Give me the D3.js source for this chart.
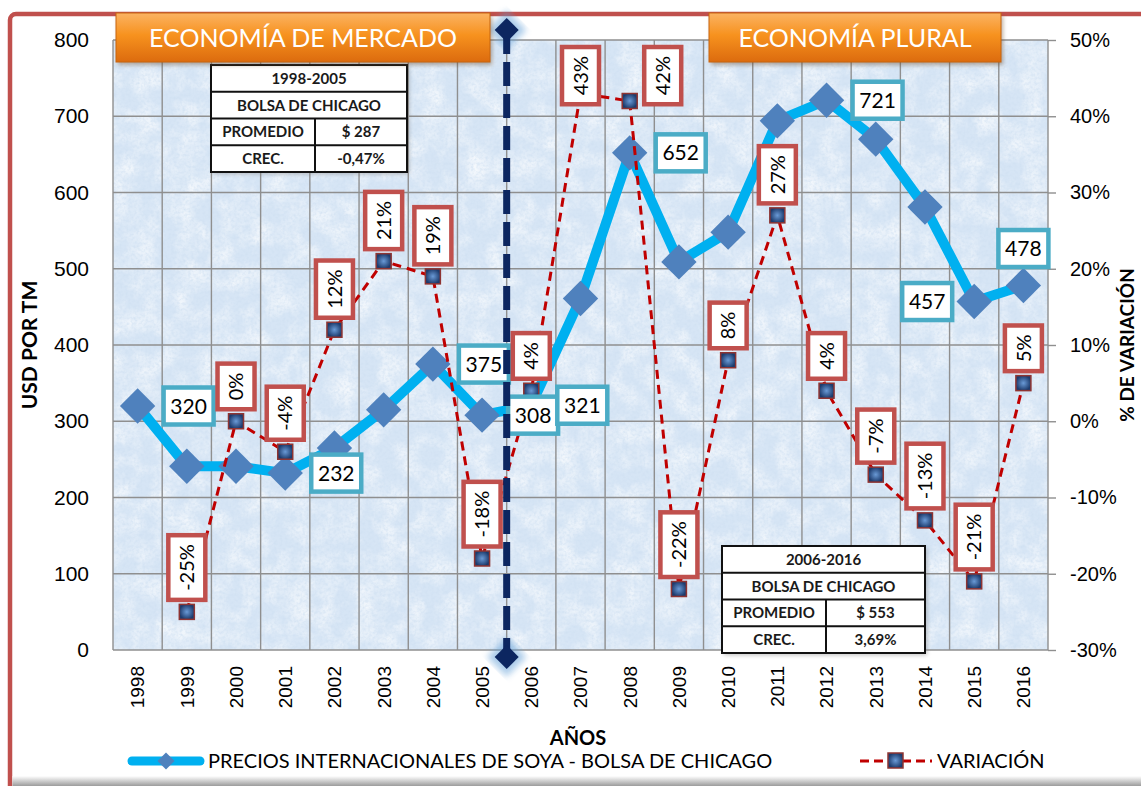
<!DOCTYPE html>
<html>
<head>
<meta charset="utf-8">
<script src="https://cdn.jsdelivr.net/npm/d3@7"></script>
<style>
  html, body { margin: 0; padding: 0; background: #fff; }
  svg { display: block; font-family: Lato, 'Open Sans', sans-serif; }
</style>
</head>
<body>
<svg id="chart"></svg>
<script>
// data
const years = ['1998', '1999', '2000', '2001', '2002', '2003', '2004', '2005', '2006', '2007',
  '2008', '2009', '2010', '2011', '2012', '2013', '2014', '2015', '2016'];
const prices = [320, 241, 241, 232, 265, 315, 375, 308, 321, 461, 652, 509, 548, 694, 721, 670, 581, 457, 478];
const variation = [null, -25, 0, -4, 12, 21, 19, -18, 4, 43, 42, -22, 8, 27, 4, -7, -13, -21, 5];
const leftTicks = [0, 100, 200, 300, 400, 500, 600, 700, 800];
const rightTicks = [-30, -20, -10, 0, 10, 20, 30, 40, 50];
const periods = ['ECONOMÍA DE MERCADO', 'ECONOMÍA PLURAL'];
const tableA = [['1998-2005'], ['BOLSA DE CHICAGO'], ['PROMEDIO', '$ 287'], ['CREC.', '-0,47%']];
const tableB = [['2006-2016'], ['BOLSA DE CHICAGO'], ['PROMEDIO', '$ 553'], ['CREC.', '3,69%']];
const seriesNames = ['PRECIOS INTERNACIONALES DE SOYA - BOLSA DE CHICAGO', 'VARIACIÓN'];

// which points carry a label, and on which side
const priceLabelSide = { 1998: 'right', 2001: 'right', 2004: 'right', 2005: 'right', 2006: 'right',
  2008: 'right', 2012: 'right', 2015: 'left', 2016: 'top' };
const varLabelSide = { 2008: 'right' };

const width = 1141, height = 786;
const plot = { l: 113, r: 1048, t: 40, b: 650 };

const svg = d3.select('#chart').attr('width', width).attr('height', height);
const defs = svg.append('defs');

// texture for the plot area: soft clouds plus fine speckle
const mottle = defs.append('filter').attr('id', 'mottle')
  .attr('x', 0).attr('y', 0).attr('width', 1).attr('height', 1);
mottle.append('feTurbulence').attr('type', 'fractalNoise').attr('baseFrequency', 0.045)
  .attr('numOctaves', 4).attr('seed', 3).attr('result', 'n');
mottle.append('feColorMatrix').attr('in', 'n').attr('type', 'matrix')
  .attr('values', '0 0 0 0 1  0 0 0 0 1  0 0 0 0 1  1.3 0 0 0 -0.45');

const speckle = defs.append('filter').attr('id', 'speckle')
  .attr('x', 0).attr('y', 0).attr('width', 1).attr('height', 1);
speckle.append('feTurbulence').attr('type', 'fractalNoise').attr('baseFrequency', 0.35)
  .attr('numOctaves', 2).attr('seed', 11).attr('result', 'n');
speckle.append('feColorMatrix').attr('in', 'n').attr('type', 'matrix')
  .attr('values', '0 0 0 0 0.62  0 0 0 0 0.74  0 0 0 0 0.88  1.4 0 0 0 -0.55');

const blur = defs.append('filter').attr('id', 'glow')
  .attr('x', '-50%').attr('y', '-10%').attr('width', '200%').attr('height', '120%');
blur.append('feGaussianBlur').attr('stdDeviation', 3);

const shadow = defs.append('filter').attr('id', 'shadow')
  .attr('x', '-10%').attr('y', '-20%').attr('width', '120%').attr('height', '160%');
shadow.append('feGaussianBlur').attr('stdDeviation', 2);

const orange = defs.append('linearGradient').attr('id', 'orange')
  .attr('x1', 0).attr('y1', 0).attr('x2', 0).attr('y2', 1);
orange.append('stop').attr('offset', '0%').attr('stop-color', '#fbb363');
orange.append('stop').attr('offset', '45%').attr('stop-color', '#f7921e');
orange.append('stop').attr('offset', '100%').attr('stop-color', '#dc6b0e');

const bottomShade = defs.append('linearGradient').attr('id', 'bottomShade')
  .attr('x1', 0).attr('y1', 0).attr('x2', 0).attr('y2', 1);
bottomShade.append('stop').attr('offset', '0%').attr('stop-color', '#ffffff');
bottomShade.append('stop').attr('offset', '100%').attr('stop-color', '#9c9c9c');

const marker = defs.append('radialGradient').attr('id', 'marker');
marker.append('stop').attr('offset', '0%').attr('stop-color', '#6a9ad6');
marker.append('stop').attr('offset', '100%').attr('stop-color', '#1d3c6e');

// frame
svg.append('rect').attr('x', 10).attr('y', 14).attr('width', 1160).attr('height', 800)
  .attr('rx', 6).attr('fill', '#fff').attr('stroke', '#c0504d').attr('stroke-width', 4.5);
svg.append('rect').attr('x', 12.5).attr('y', 776).attr('width', 1130).attr('height', 10)
  .attr('fill', 'url(#bottomShade)');

// scales
const x = d3.scaleBand().domain(years).range([plot.l, plot.r]);
const cx = d => x(d) + x.bandwidth() / 2;
const yL = d3.scaleLinear().domain([0, 800]).range([plot.b, plot.t]);
const yR = d3.scaleLinear().domain([-30, 50]).range([plot.b, plot.t]);

// plot background
const bg = [['#d6e5f5', null], ['#fff', 'url(#mottle)'], ['#fff', 'url(#speckle)']];
bg.forEach(([fill, filter]) => {
  svg.append('rect').attr('x', plot.l).attr('y', plot.t)
    .attr('width', plot.r - plot.l).attr('height', plot.b - plot.t)
    .attr('fill', fill).attr('filter', filter);
});

// grid
const grid = svg.append('g').attr('stroke', '#8f8f8f').attr('stroke-width', 1.4);
grid.selectAll('line.h').data(leftTicks).enter().append('line')
  .attr('x1', plot.l).attr('x2', plot.r).attr('y1', d => yL(d)).attr('y2', d => yL(d));
grid.selectAll('line.v').data(years.map(d => x(d)).concat([plot.r])).enter().append('line')
  .attr('x1', d => d).attr('x2', d => d).attr('y1', plot.t).attr('y2', plot.b);

// axes
svg.append('g').attr('transform', `translate(${plot.l},0)`)
  .call(d3.axisLeft(yL).tickValues(leftTicks).tickSize(0).tickPadding(24))
  .call(g => g.select('.domain').remove())
  .selectAll('text').attr('font-size', 21).attr('fill', '#000').attr('font-family', null);

svg.append('g').attr('transform', `translate(${plot.r},0)`)
  .call(d3.axisRight(yR).tickValues(rightTicks).tickSize(8).tickPadding(14).tickFormat(d => d + '%'))
  .call(g => g.select('.domain').remove())
  .call(g => g.selectAll('line').attr('stroke', '#8f8f8f').attr('stroke-width', 1.4))
  .selectAll('text').attr('font-size', 20).attr('fill', '#000').attr('font-family', null);

svg.append('g').attr('transform', `translate(0,${plot.b})`)
  .call(d3.axisBottom(x).tickSize(0))
  .call(g => g.select('.domain').remove())
  .selectAll('text')
  .attr('font-size', 19).attr('fill', '#000').attr('font-family', null)
  .attr('transform', 'rotate(-90)').attr('text-anchor', 'end')
  .attr('x', -16).attr('y', 0).attr('dy', '0.36em');

// axis titles
svg.append('text').attr('transform', `translate(37,${(plot.t + plot.b) / 2}) rotate(-90)`)
  .attr('text-anchor', 'middle').attr('font-size', 21).attr('font-weight', 'bold').text('USD POR TM');
svg.append('text').attr('transform', `translate(1134,${(plot.t + plot.b) / 2}) rotate(-90)`)
  .attr('text-anchor', 'middle').attr('font-size', 19).attr('font-weight', 'bold').text('% DE VARIACIÓN');
svg.append('text').attr('x', 578).attr('y', 745)
  .attr('text-anchor', 'middle').attr('font-size', 20).attr('font-weight', 'bold').text('AÑOS');

// price series
const priceData = years.map((d, i) => ({ year: d, v: prices[i] }));
const line = d3.line().x(d => cx(d.year)).y(d => yL(d.v));
svg.append('path').datum(priceData).attr('d', line)
  .attr('fill', 'none').attr('stroke', '#00b0f0').attr('stroke-width', 10).attr('stroke-linejoin', 'round');
svg.selectAll('path.dia').data(priceData).enter().append('path')
  .attr('transform', d => `translate(${cx(d.year)},${yL(d.v)}) rotate(45)`)
  .attr('d', d3.symbol().type(d3.symbolSquare).size(25 * 25))
  .attr('fill', '#4f81bd');

// variation series
const varData = years.map((d, i) => ({ year: d, v: variation[i] })).filter(d => d.v !== null);
const vline = d3.line().x(d => cx(d.year)).y(d => yR(d.v));
svg.append('path').datum(varData).attr('d', vline)
  .attr('fill', 'none').attr('stroke', '#c00000').attr('stroke-width', 3).attr('stroke-dasharray', '9,6');
svg.selectAll('rect.mk').data(varData).enter().append('rect')
  .attr('x', d => cx(d.year) - 7.5).attr('y', d => yR(d.v) - 7.5)
  .attr('width', 15).attr('height', 15)
  .attr('fill', 'url(#marker)').attr('stroke', '#8e3432').attr('stroke-width', 1.5);

// price data labels
const pl = svg.append('g');
priceData.filter(d => priceLabelSide[d.year]).forEach(d => {
  const side = priceLabelSide[d.year];
  const w = 50, h = 37;
  let mx = cx(d.year), my = yL(d.v);
  if (side === 'right') mx += 51;
  if (side === 'left') mx -= 47;
  if (side === 'top') my -= 37;
  pl.append('rect').attr('x', mx - w / 2).attr('y', my - h / 2).attr('width', w).attr('height', h)
    .attr('fill', '#fff').attr('stroke', '#4bacc6').attr('stroke-width', 4.5);
  pl.append('text').attr('x', mx).attr('y', my).attr('dy', '0.36em').attr('text-anchor', 'middle')
    .attr('font-size', 21).text(d.v);
});

// variation data labels (rotated text)
const vl = svg.append('g');
varData.forEach(d => {
  const txt = d.v + '%';
  const t = vl.append('text').attr('font-size', 20).text(txt);
  const len = t.node().getComputedTextLength();
  const w = 37, h = len + 18;
  const side = varLabelSide[d.year] || 'above';
  let mx = cx(d.year);
  let top = Math.max(47, yR(d.v) - 12 - h);
  if (side === 'right') mx += 33;
  const my = top + h / 2;
  vl.insert('rect', 'text:last-child')
    .attr('x', mx - w / 2).attr('y', top).attr('width', w).attr('height', h)
    .attr('fill', '#fff').attr('stroke', '#c0504d').attr('stroke-width', 4.5);
  t.attr('transform', `translate(${mx},${my}) rotate(-90)`)
    .attr('text-anchor', 'middle').attr('dy', '0.36em');
});

// divider between the two periods
const divX = x('2006');
const divTop = plot.t - 10, divBot = plot.b + 7;
svg.append('line').attr('x1', divX).attr('x2', divX).attr('y1', divTop).attr('y2', divBot)
  .attr('stroke', '#5b9bd5').attr('stroke-width', 18).attr('opacity', 0.6).attr('filter', 'url(#glow)');
[divTop, divBot].forEach(yy => {
  svg.append('path').attr('transform', `translate(${divX},${yy}) rotate(45)`)
    .attr('d', d3.symbol().type(d3.symbolSquare).size(28 * 28))
    .attr('fill', '#5b9bd5').attr('opacity', 0.5).attr('filter', 'url(#glow)');
});
svg.append('line').attr('x1', divX).attr('x2', divX).attr('y1', divTop).attr('y2', divBot)
  .attr('stroke', '#0c2660').attr('stroke-width', 7).attr('stroke-dasharray', '24,8');
[divTop, divBot].forEach(yy => {
  svg.append('path').attr('transform', `translate(${divX},${yy}) rotate(45)`)
    .attr('d', d3.symbol().type(d3.symbolSquare).size(17 * 17))
    .attr('fill', '#0c2660');
});

// summary tables
function drawTable(rows, x0, y0, w, split) {
  const g = svg.append('g');
  const rh = 26.75;
  g.append('rect').attr('x', x0 + 2).attr('y', y0 + 2).attr('width', w).attr('height', rh * rows.length)
    .attr('fill', '#7f7f7f').attr('opacity', 0.5).attr('filter', 'url(#shadow)');
  g.append('rect').attr('x', x0).attr('y', y0).attr('width', w).attr('height', rh * rows.length)
    .attr('fill', '#fff');
  rows.forEach((r, i) => {
    const yy = y0 + i * rh;
    if (i > 0) g.append('line').attr('x1', x0).attr('x2', x0 + w).attr('y1', yy).attr('y2', yy)
      .attr('stroke', '#111').attr('stroke-width', 2);
    const cells = r.length === 1 ? [[x0 + w / 2, r[0]]]
      : [[x0 + split / 2, r[0]], [x0 + split + (w - split) / 2, r[1]]];
    if (r.length > 1) {
      g.append('line').attr('x1', x0 + split).attr('x2', x0 + split).attr('y1', yy).attr('y2', yy + rh)
        .attr('stroke', '#111').attr('stroke-width', 2);
    }
    cells.forEach(([tx, label]) => {
      g.append('text').attr('x', tx).attr('y', yy + rh / 2).attr('dy', '0.36em')
        .attr('text-anchor', 'middle').attr('font-size', 15).attr('font-weight', 'bold')
        .attr('fill', '#1a1a1a').text(label);
    });
  });
  g.append('rect').attr('x', x0).attr('y', y0).attr('width', w).attr('height', rh * rows.length)
    .attr('fill', 'none').attr('stroke', '#111').attr('stroke-width', 2);
}
drawTable(tableA, 211, 65, 196, 104);
drawTable(tableB, 722, 546, 203, 104);

// period banners
function banner(label, x0, w) {
  const g = svg.append('g');
  g.append('rect').attr('x', x0 + 2).attr('y', 16).attr('width', w).attr('height', 49)
    .attr('fill', '#6b4a2a').attr('opacity', 0.45).attr('filter', 'url(#shadow)');
  g.append('rect').attr('x', x0).attr('y', 13).attr('width', w).attr('height', 49)
    .attr('fill', 'url(#orange)').attr('stroke', '#c7650f').attr('stroke-width', 1);
  g.append('text').attr('x', x0 + w / 2).attr('y', 38).attr('dy', '0.36em')
    .attr('text-anchor', 'middle').attr('font-size', 25).attr('fill', '#fff').text(label);
}
banner(periods[0], 116, 374);
banner(periods[1], 709, 292);

// legend
const lg = svg.append('g');
lg.append('line').attr('x1', 132).attr('x2', 200).attr('y1', 761).attr('y2', 761)
  .attr('stroke', '#00b0f0').attr('stroke-width', 9).attr('stroke-linecap', 'round');
lg.append('path').attr('transform', 'translate(166,761) rotate(45)')
  .attr('d', d3.symbol().type(d3.symbolSquare).size(12 * 12)).attr('fill', '#4f81bd');
lg.append('text').attr('x', 208).attr('y', 761).attr('dy', '0.36em').attr('font-size', 20)
  .text(seriesNames[0]);
lg.append('line').attr('x1', 860).attr('x2', 932).attr('y1', 761).attr('y2', 761)
  .attr('stroke', '#c00000').attr('stroke-width', 3).attr('stroke-dasharray', '9,5');
lg.append('rect').attr('x', 888).attr('y', 753).attr('width', 15).attr('height', 15)
  .attr('fill', 'url(#marker)').attr('stroke', '#8e3432').attr('stroke-width', 1.5);
lg.append('text').attr('x', 937).attr('y', 761).attr('dy', '0.36em').attr('font-size', 20)
  .text(seriesNames[1]);
</script>
</body>
</html>
